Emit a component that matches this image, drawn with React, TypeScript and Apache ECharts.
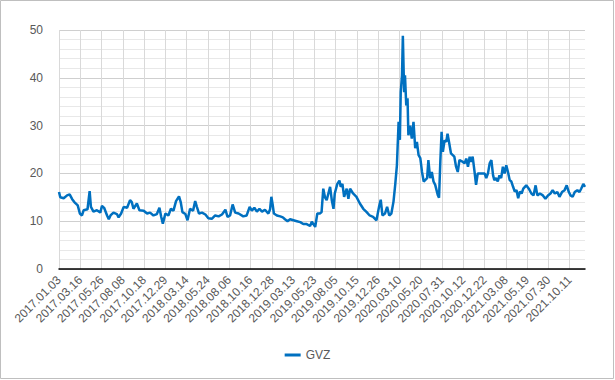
import React, { useEffect, useRef } from "react";
import * as echarts from "echarts";

const tickLabels = [
  "2017.01.03", "2017.03.16", "2017.05.26", "2017.08.08", "2017.10.18",
  "2017.12.29", "2018.03.14", "2018.05.24", "2018.08.06", "2018.10.16",
  "2018.12.28", "2019.03.13", "2019.05.23", "2019.08.05", "2019.10.15",
  "2019.12.26", "2020.03.10", "2020.05.20", "2020.07.31", "2020.10.12",
  "2020.12.22", "2021.03.08", "2021.05.19", "2021.07.30", "2021.10.11",
];
const daysPerTick = 50;
const lastDay = 1236;

// trading-day index of each reading
const dayIndex = [
  0, 3, 11, 19, 25, 31, 36, 44, 49, 54, 58, 67, 72, 75, 81, 89, 97, 101, 106, 113,
  117, 121, 128, 136, 140, 146, 152, 160, 167, 171, 175, 183, 189, 199, 207, 214, 222, 230, 236, 240,
  244, 250, 257, 263, 269, 275, 282, 286, 290, 297, 302, 308, 315, 320, 324, 329, 336, 344, 351, 359,
  367, 375, 383, 391, 396, 402, 408, 414, 422, 433, 441, 448, 453, 459, 465, 471, 477, 484, 492, 496,
  499, 502, 505, 512, 520, 526, 531, 537, 543, 551, 559, 567, 574, 582, 590, 594, 602, 607, 613, 617,
  621, 625, 629, 633, 637, 641, 645, 648, 654, 659, 662, 666, 670, 676, 680, 684, 691, 699, 707, 715,
  723, 730, 738, 746, 752, 756, 760, 766, 771, 776, 781, 786, 790, 794, 798, 801, 803, 806, 808, 811,
  813, 816, 819, 821, 825, 829, 833, 837, 841, 845, 849, 853, 857, 865, 868, 872, 876, 880, 884, 890,
  893, 896, 899, 902, 906, 910, 913, 917, 921, 929, 933, 937, 941, 949, 953, 957, 961, 965, 968, 972,
  976, 980, 984, 992, 1000, 1004, 1008, 1012, 1016, 1020, 1023, 1027, 1031, 1035, 1039, 1043, 1047, 1051, 1055, 1059,
  1063, 1067, 1071, 1075, 1079, 1083, 1087, 1091, 1098, 1104, 1110, 1115, 1120, 1124, 1130, 1137, 1143, 1149, 1155, 1160,
  1165, 1171, 1176, 1182, 1188, 1193, 1198, 1202, 1207, 1212, 1218, 1223, 1227, 1232, 1236,
];

const gvz = [
  16.1, 15.0, 14.8, 15.4, 15.6, 14.6, 14.0, 13.3, 11.6, 11.2, 12.3, 12.5, 16.3, 13.0, 12.0, 12.3, 11.8, 13.2, 12.8, 11.2,
  10.4, 11.2, 11.8, 11.5, 10.8, 11.6, 13.0, 12.8, 14.4, 14.0, 12.6, 13.7, 12.3, 12.2, 11.6, 11.8, 11.2, 11.5, 12.8, 11.0,
  9.5, 11.6, 11.2, 12.6, 12.2, 14.2, 15.2, 14.0, 11.9, 11.5, 10.2, 12.6, 12.2, 14.2, 13.0, 11.6, 11.8, 11.4, 10.6, 10.5,
  11.2, 11.0, 11.4, 12.4, 10.9, 11.2, 13.5, 11.8, 11.6, 11.0, 11.2, 13.0, 12.2, 12.8, 12.0, 12.6, 12.0, 12.4, 11.6, 12.5,
  15.1, 13.5, 11.6, 11.2, 11.0, 10.8, 10.4, 10.0, 10.4, 10.2, 10.0, 9.8, 9.4, 9.4, 9.0, 9.9, 8.8, 11.6, 11.6, 11.9,
  16.8, 15.0, 14.4, 15.8, 17.2, 14.4, 12.6, 15.8, 17.8, 18.5, 17.2, 17.8, 15.1, 16.8, 14.7, 16.8, 15.8, 15.1, 13.7, 12.6,
  11.9, 11.2, 10.9, 10.2, 13.0, 14.5, 11.2, 11.6, 13.0, 11.2, 11.6, 14.1, 17.6, 21.7, 30.8, 27.0, 37.0, 40.5, 48.8, 37.0,
  40.5, 34.2, 35.7, 28.0, 30.0, 27.3, 30.8, 25.3, 26.6, 23.8, 23.2, 20.3, 18.3, 19.0, 22.8, 19.0, 20.3, 18.3, 17.6, 15.5,
  14.9, 22.4, 28.7, 24.5, 26.9, 26.6, 28.3, 26.3, 24.2, 23.5, 21.4, 20.3, 22.8, 22.4, 22.1, 23.1, 21.4, 23.5, 22.4, 23.5,
  20.7, 17.6, 20.0, 20.0, 20.0, 19.0, 20.0, 22.1, 22.8, 19.6, 18.6, 19.0, 18.3, 19.6, 19.0, 21.4, 20.0, 21.7, 20.3, 18.6,
  18.3, 17.2, 16.2, 16.5, 14.8, 16.2, 15.8, 16.8, 17.5, 16.8, 15.8, 15.4, 17.5, 15.4, 15.8, 15.4, 14.7, 15.4, 15.8, 16.5,
  15.8, 16.1, 15.1, 16.1, 16.5, 17.5, 16.1, 15.4, 15.1, 16.1, 16.5, 16.1, 16.8, 17.8, 17.2,
];

const seriesName = "GVZ";

export default function App() {
  const ref = useRef<HTMLDivElement>(null);

  useEffect(() => {
    if (!ref.current) return;
    const chart = echarts.init(ref.current, undefined, { renderer: "svg" });
    const font = "'Liberation Sans', Arial, sans-serif";
    const points = dayIndex.map((d, i) => [d, gvz[i]]);
    chart.setOption({
      animation: false,
      backgroundColor: "#ffffff",
      textStyle: { fontFamily: font },
      graphic: [
        {
          type: "rect",
          shape: { x: 0.5, y: 0.5, width: 613, height: 378 },
          style: { fill: "none", stroke: "#bfbfbf", lineWidth: 1 },
          silent: true,
          z: 100,
        },
      ],
      grid: { left: 59, right: 30, top: 30, bottom: 111, containLabel: false },
      legend: {
        data: [seriesName],
        bottom: 14,
        left: "center",
        icon: "rect",
        itemWidth: 16,
        itemHeight: 3,
        itemGap: 10,
        textStyle: { fontFamily: font, fontSize: 12, color: "#595959" },
      },
      xAxis: {
        type: "value",
        min: 0,
        max: lastDay,
        interval: daysPerTick,
        axisLine: { show: true, lineStyle: { color: "#000000", width: 1.5 } },
        axisTick: { show: false },
        axisLabel: {
          rotate: 45,
          margin: 9,
          fontSize: 12,
          fontFamily: font,
          color: "#595959",
          showMaxLabel: false,
          formatter: (v: number) =>
            v % daysPerTick === 0 ? tickLabels[v / daysPerTick] ?? "" : "",
        },
        splitLine: {
          show: true,
          showMinLine: true,
          showMaxLine: false,
          lineStyle: { color: "#d9d9d9", width: 1 },
        },
      },
      yAxis: {
        type: "value",
        min: 0,
        max: 50,
        interval: 10,
        axisLine: { show: false },
        axisTick: { show: false },
        axisLabel: { fontSize: 12, fontFamily: font, color: "#595959", margin: 16 },
        splitLine: { show: true, lineStyle: { color: "#cfcfcf", width: 1 } },
        minorTick: { show: false, splitNumber: 5 },
        minorSplitLine: { show: true, lineStyle: { color: "#e8e8e8", width: 1 } },
      },
      series: [
        {
          name: seriesName,
          type: "line",
          data: points,
          showSymbol: false,
          symbol: "none",
          lineStyle: { color: "#0070c0", width: 2.5 },
          itemStyle: { color: "#0070c0" },
        },
      ],
    });
    return () => chart.dispose();
  }, []);

  return (
    <div
      ref={ref}
      style={{ position: "fixed", left: 0, top: 0, width: 615, height: 380 }}
    />
  );
}
